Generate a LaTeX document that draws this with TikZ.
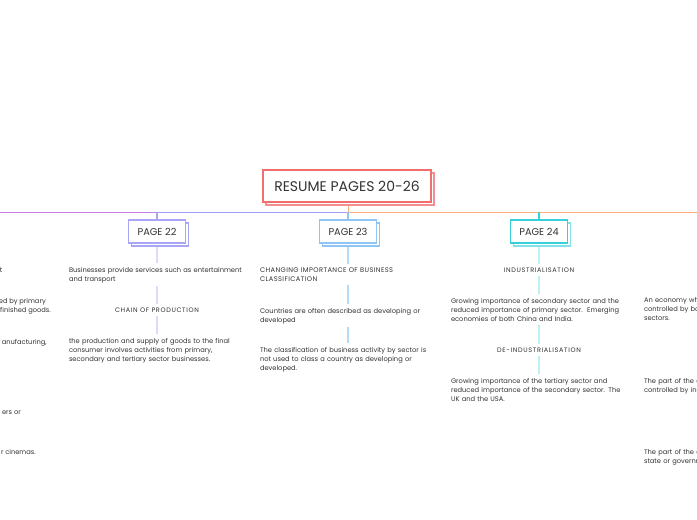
\documentclass[tikz,border=0pt]{standalone}
\usepackage{fontspec}
\setmainfont{Poppins}
\usetikzlibrary{shadows}
\definecolor{rootc}{HTML}{F26D6D}
\definecolor{rootsh}{HTML}{F58E8E}
\definecolor{pgA}{HTML}{A9A6F7}
\definecolor{pgAl}{HTML}{DCDBFB}
\definecolor{pgB}{HTML}{8EC5F5}
\definecolor{pgBl}{HTML}{B5DBF8}
\definecolor{pgC}{HTML}{36CFDA}
\definecolor{pgCsh}{HTML}{7FE2E9}
\definecolor{pgCl}{HTML}{BDEFF3}
\definecolor{lnmag}{HTML}{C57FEC}
\definecolor{lnviol}{HTML}{9E9CF6}
\definecolor{lnorg}{HTML}{FFAD78}
\definecolor{txt}{HTML}{333333}
\begin{document}
\begin{tikzpicture}[x=1pt,y=-1pt,
  rootbox/.style={draw=rootc, line width=1.3pt, fill=white, minimum width=168pt,
    minimum height=32pt, inner sep=0pt, font=\fontsize{14}{16}\selectfont, text=txt,
    copy shadow={shadow xshift=3pt, shadow yshift=-3pt, draw=rootsh, fill=white, line width=1.3pt}},
  pagebox/.style={line width=1.2pt, fill=white, minimum width=57pt, minimum height=23pt,
    inner sep=0pt, font=\fontsize{9.8}{11}\selectfont, text=txt},
  bodytext/.style={text width=176pt, align=left, inner sep=0pt, anchor=north,
    font=\fontsize{6.7}{9}\selectfont, text=txt},
  headtext/.style={align=center, inner sep=0pt, anchor=north,
    font=\fontsize{6.5}{9}\selectfont\addfontfeatures{LetterSpace=10}, text=txt},
  frag/.style={inner sep=0pt, font=\fontsize{6.7}{9}\selectfont, text=txt},
  conn/.style={line width=2pt, shorten <=3.5pt, shorten >=4pt},
  hline/.style={line width=1pt}
]
\useasboundingbox (0,0) rectangle (697,520);
\fill[white] (0,0) rectangle (697,520);

% coordinates on the horizontal line
\coordinate (hl) at (0,212);
\coordinate (hA) at (157,212);
\coordinate (hB) at (348,212);
\coordinate (hr) at (697,212);

\draw[hline, lnmag] (hl) -- (hA);
\draw[hline, lnviol] (hA) -- (hB);
\draw[hline, lnorg] (hB) -- (hr);
\coordinate (rs) at (348,200);
\draw[hline, lnorg] (rs) -- (hB);

% root
\node[rootbox] (root) at (347,186) {RESUME PAGES 20-26};

% page boxes
\node[pagebox, draw=pgA, copy shadow={shadow xshift=3pt, shadow yshift=-3pt, draw=pgA, fill=white, line width=1.2pt}] (pA) at (157,231.5) {PAGE 22};
\node[pagebox, draw=pgB, copy shadow={shadow xshift=3pt, shadow yshift=-3pt, draw=pgB, fill=white, line width=1.2pt}] (pB) at (348,231.5) {PAGE 23};
\node[pagebox, draw=pgC, copy shadow={shadow xshift=3pt, shadow yshift=-3pt, draw=pgCsh, fill=white, line width=1.2pt}] (pC) at (539,231.5) {PAGE 24};

\draw[hline, pgA, line width=1.2pt] (hA) -- (pA.north);
\draw[hline, pgB, line width=1.2pt] (hB) -- (pB.north);
\draw[hline, pgC, line width=1.2pt] (pC.north |- hr) -- (pC.north);

% column PAGE 22
\node[bodytext] (a1) at (157,266.7) {Businesses provide services such as entertainment\\and transport};
\node[headtext] (a2) at (157,307.5) {CHAIN OF PRODUCTION};
\node[bodytext] (a3) at (157,337.7) {the production and supply of goods to the final\\consumer involves activities from primary,\\secondary and tertiary sector businesses.};
\draw[conn, pgAl, shorten <=3pt] (pA.south) -- (a1.north);
\draw[conn, pgAl] (a1.south) -- (a2.north);
\draw[conn, pgAl] (a2.south) -- (a3.north);

% column PAGE 23
\node[bodytext] (b1) at (348,267.5) {\addfontfeatures{LetterSpace=6}CHANGING IMPORTANCE OF BUSINESS\\\addfontfeatures{LetterSpace=6}CLASSIFICATION};
\node[bodytext] (b2) at (348,307.7) {Countries are often described as developing or\\developed};
\node[bodytext] (b3) at (348,346.7) {The classification of business activity by sector is\\not used to class a country as developing or\\developed.};
\draw[conn, pgBl, shorten <=3pt] (pB.south) -- (b1.north);
\draw[conn, pgBl] (b1.south) -- (b2.north);
\draw[conn, pgBl] (b2.south) -- (b3.north);

% column PAGE 24
\node[headtext] (c1) at (539,267.5) {INDUSTRIALISATION};
\node[bodytext] (c2) at (539,297.7) {Growing importance of secondary sector and the\\reduced importance of primary sector.\ \ Emerging\\economies of both China and India.};
\node[headtext] (c3) at (539,347.5) {DE-INDUSTRIALISATION};
\node[bodytext] (c4) at (539,377.7) {Growing importance of the tertiary sector and\\reduced importance of the secondary sector. The\\UK and the USA.};
\draw[conn, pgCl, shorten <=3pt] (pC.south) -- (c1.north);
\draw[conn, pgCl] (c1.south) -- (c2.north);
\draw[conn, pgCl] (c2.south) -- (c3.north);
\draw[conn, pgCl] (c3.south) -- (c4.north);

% right column (cut by the frame)
\node[bodytext] (d1) at (732,297.7) {An economy where resources are owned and\\controlled by both the private and public\\sectors.};
\node[bodytext] (d2) at (732,377.7) {The part of the economy owned and\\controlled by individuals and companies.};
\node[bodytext] (d3) at (732,448.7) {The part of the economy owned by the\\state or government.};

% left column (cut by the frame)
\node[frag, anchor=base east] (e1) at (2.5,272) {t};
\node[frag, anchor=base east] (e2) at (46,303) {ed by primary};
\node[frag, anchor=base east] (e3) at (51,312) {finished goods.};
\node[frag, anchor=base east] (e4) at (47,344) {anufacturing,};
\node[frag, anchor=base east] (e5) at (21,414) {ers or};
\node[frag, anchor=base east] (e6) at (36,454) {r cinemas.};
\end{tikzpicture}
\end{document}
